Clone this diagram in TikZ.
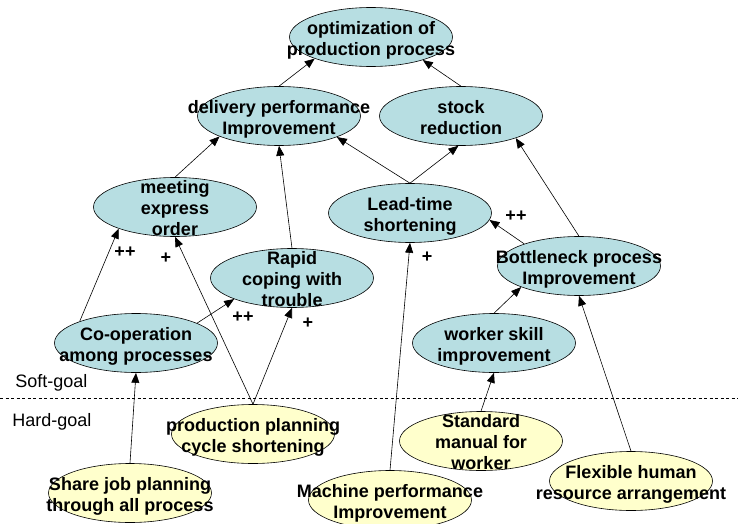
\documentclass[tikz,border=0pt]{standalone}
\usepackage{fontspec}
\setmainfont{Liberation Sans}
\usetikzlibrary{arrows.meta,shapes.geometric}
\usetikzlibrary{positioning}
\definecolor{softblue}{RGB}{183,222,226}
\definecolor{hardyellow}{RGB}{255,255,204}
% goal text may stick out of its ellipse, so it takes no room
\newcommand{\goallines}[1]{\smash{\makebox[0pt]{\raisebox{-8pt}{\begin{tabular}{@{}c@{}}#1\end{tabular}}}}}
\tikzset{
    soft/.style={
           ellipse,
           draw=black, line width=0.6pt,
           fill=softblue,
           minimum width=163pt,
           minimum height=59pt,
           inner sep=0pt,
           font=\bfseries\fontsize{18}{21}\selectfont,
           },
}
\tikzset{
    hard/.style={
           soft,
           fill=hardyellow,
           },
}
\tikzset{
    signlbl/.style={
           inner sep=0pt,
           font=\bfseries\fontsize{18}{21}\selectfont,
           },
    layer/.style={
           inner sep=0pt,
           anchor=west,
           font=\fontsize{18}{21}\selectfont,
           },
}

\begin{document}
\begin{tikzpicture}[->,>={Triangle[length=10pt,width=8pt]},line width=0.6pt,x=1pt,y=-1pt]
 \useasboundingbox (0,0) rectangle (738,524);

 % soft-goals
 \node[soft] (opt) at (371,37) {\goallines{optimization of\\production process}};
 \node[soft] (deliv) at (279,116) {\goallines{delivery performance\\Improvement}};
 \node[soft, right of=deliv, node distance=182pt] (stock) {\goallines{stock\\reduction}};
 \node[soft] (meet) at (175,207) {\goallines{meeting\\express\\order}};
 \node[soft] (lead) at (410,213) {\goallines{Lead-time\\shortening}};
 \node[soft] (rapid) at (292,278) {\goallines{Rapid\\coping with\\trouble}};
 \node[soft] (bott) at (579,266) {\goallines{Bottleneck process\\Improvement}};
 \node[soft] (coop) at (136,343) {\goallines{Co-operation\\among processes}};
 \node[soft, right of=coop, node distance=358pt] (skill) {\goallines{worker skill\\improvement}};

 % hard-goals
 \node[hard] (plan) at (253,434) {\goallines{production planning\\cycle shortening}};
 \node[hard] (share) at (130,493) {\goallines{Share job planning\\through all process}};
 \node[hard] (mach) at (390,500) {\goallines{Machine performance\\Improvement}};
 \node[hard] (manual) at (481,441) {\goallines{Standard\\manual for\\worker}};
 \node[hard] (flex) at (631,481) {\goallines{Flexible human\\resource arrangement}};

 % border between the two kinds of goal
 \draw[-,dash pattern=on 3pt off 2.5pt,line width=0.5pt] (0,398) -- (738,398);
 \node[layer] (softlbl) at (15,383) {Soft-goal};
 \node[layer] (hardlbl) at (12,422) {Hard-goal};

 \path (deliv.north)  edge (opt.201.6)
       (stock.north)  edge (opt.336.2)
       (meet.north)   edge (deliv.199.6)
       (rapid.north)  edge (deliv.south)
       (lead.north)   edge (deliv.340.2)
       (lead.north)   edge (stock.265)
       (bott.north)   edge (stock.338.5)
       (bott.158.7)   edge (lead.355)
       (skill.north)  edge (bott.200.1)
       (flex.north)   edge (bott.south)
       (manual.north) edge (skill.south)
       (mach.north)   edge (lead.south)
       (coop.159.4)   edge (meet.201)
       (plan.north)   edge (meet.south)
       (coop.18.7)    edge (rapid.200.4)
       (plan.north)   edge (rapid.south)
       (share.north)  edge (coop.south)
 ;

 % contribution signs
 \node[signlbl] (cm) at (125,252) {++};
 \node[signlbl] (pm) at (166,258) {+};
 \node[signlbl] (cr) at (243,317) {++};
 \node[signlbl] (pr) at (308,323) {+};
 \node[signlbl] (ml) at (427,257) {+};
 \node[signlbl] (bl) at (516,216) {++};

\end{tikzpicture}
\end{document}
